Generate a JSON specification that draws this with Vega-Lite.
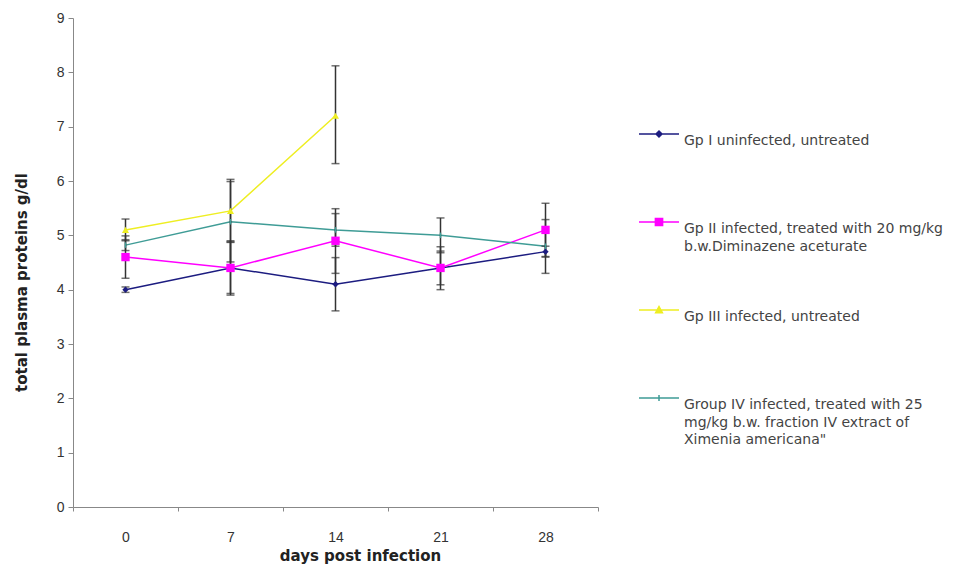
{
  "$schema": "https://vega.github.io/schema/vega-lite/v6.json",
  "autosize": "none",
  "width": 525,
  "height": 489,
  "padding": {"left": 73, "top": 18, "right": 360, "bottom": 62},
  "background": "white",
  "config": {
    "view": {"stroke": null},
    "font": "Liberation Sans",
    "axis": {"grid": false, "domainColor": "#888", "tickColor": "#888", "labelColor": "#333", "titleColor": "#222", "labelFont": "Liberation Sans", "titleFont": "DejaVu Sans"}
  },
  "data": {
    "values": [
      {"group": "Gp I", "day": "0", "mean": 4.0, "lo": 3.95, "hi": 4.05},
      {"group": "Gp I", "day": "7", "mean": 4.4, "lo": 3.9, "hi": 4.9},
      {"group": "Gp I", "day": "14", "mean": 4.1, "lo": 3.61, "hi": 4.59},
      {"group": "Gp I", "day": "21", "mean": 4.4, "lo": 4.09, "hi": 4.71},
      {"group": "Gp I", "day": "28", "mean": 4.7, "lo": 4.6, "hi": 4.8},
      {"group": "Gp II", "day": "0", "mean": 4.6, "lo": 4.21, "hi": 4.99},
      {"group": "Gp II", "day": "7", "mean": 4.4, "lo": 3.93, "hi": 4.87},
      {"group": "Gp II", "day": "14", "mean": 4.9, "lo": 4.3, "hi": 5.49},
      {"group": "Gp II", "day": "21", "mean": 4.4, "lo": 4.0, "hi": 4.79},
      {"group": "Gp II", "day": "28", "mean": 5.1, "lo": 4.61, "hi": 5.59},
      {"group": "Gp III", "day": "0", "mean": 5.1, "lo": 4.9, "hi": 5.3},
      {"group": "Gp III", "day": "7", "mean": 5.45, "lo": 4.88, "hi": 6.03},
      {"group": "Gp III", "day": "14", "mean": 7.2, "lo": 6.32, "hi": 8.12},
      {"group": "Group IV", "day": "0", "mean": 4.82, "lo": 4.72, "hi": 4.92},
      {"group": "Group IV", "day": "7", "mean": 5.25, "lo": 4.51, "hi": 5.99},
      {"group": "Group IV", "day": "14", "mean": 5.1, "lo": 4.8, "hi": 5.4},
      {"group": "Group IV", "day": "21", "mean": 5.0, "lo": 4.68, "hi": 5.32},
      {"group": "Group IV", "day": "28", "mean": 4.8, "lo": 4.3, "hi": 5.29}
    ]
  },
  "encoding": {
    "x": {
      "field": "day", "type": "ordinal", "sort": ["0", "7", "14", "21", "28"],
      "scale": {"paddingInner": 0, "paddingOuter": 0},
      "axis": {"title": "days post infection", "labelAngle": 0, "tickBand": "extent", "tickSize": 4, "labelFontSize": 14, "labelPadding": 19, "titleFontSize": 15, "titleFontWeight": "bold", "titlePadding": 4, "titleX": 287, "titleAlign": "center"}
    }
  },
  "layer": [
    {
      "mark": {"type": "line", "strokeWidth": 1.5},
      "encoding": {
        "y": {"field": "mean", "type": "quantitative", "scale": {"domain": [0, 9]},
          "axis": {"title": "total plasma proteins g/dl", "values": [0,1,2,3,4,5,6,7,8,9], "labelOverlap": false, "tickSize": 5, "labelFontSize": 14, "labelPadding": 4, "titleFontSize": 15, "titleFontWeight": "bold", "titlePadding": 27, "titleY": 264, "titleAlign": "center"}},
        "color": {
          "field": "group", "type": "nominal",
          "scale": {"domain": ["Gp I", "Gp II", "Gp III", "Group IV"], "range": ["#1c1c80", "#ff00ff", "#eeee22", "#3f9c96"]},
          "legend": {
            "title": null, "orient": "none", "legendX": 565, "legendY": 95,
            "symbolSize": 1600, "symbolStrokeWidth": 1.5, "labelOffset": 4,
            "labelFont": "DejaVu Sans", "labelFontSize": 14, "labelColor": "#444", "labelLimit": 400, "labelBaseline": "top",
            "rowPadding": 18,
            "labelExpr": "datum.value === 'Gp I' ? ['Gp I uninfected,  untreated', ' ', ' '] : datum.value === 'Gp II' ? ['Gp II infected,  treated with 20 mg/kg', 'b.w.Diminazene  aceturate', ' '] : datum.value === 'Gp III' ? ['Gp III infected,  untreated', ' ', ' '] : ['Group IV infected, treated with 25', 'mg/kg b.w.  fraction IV extract of', 'Ximenia americana\"']",
            "encode": {
              "labels": {"update": {"lineHeight": {"value": 17.5}}},
              "symbols": {"update": {
                "shape": {"signal": "datum.value === 'Gp I' ? 'M-1,0H1M-0.15,0L0,-0.15L0.15,0L0,0.15Z' : datum.value === 'Gp II' ? 'M-1,0H1M-0.18,-0.18H0.18V0.18H-0.18Z' : datum.value === 'Gp III' ? 'M-1,0H1M-0.17,0.14L0,-0.17L0.17,0.14Z' : 'M-1,0H1M0,-0.15V0.15'"},
                "fill": {"scale": "color", "field": "value"},
                "stroke": {"scale": "color", "field": "value"},
                "strokeWidth": {"value": 1.5},
                "opacity": {"value": 1}
              }}
            }
          }
        }
      }
    },
    {
      "mark": {"type": "rule", "color": "#333", "strokeWidth": 1.5},
      "encoding": {
        "y": {"field": "lo", "type": "quantitative", "axis": {"title": "total plasma proteins g/dl", "values": [0,1,2,3,4,5,6,7,8,9], "labelOverlap": false, "tickSize": 5, "labelFontSize": 14, "labelPadding": 4, "titleFontSize": 15, "titleFontWeight": "bold", "titlePadding": 27, "titleY": 264, "titleAlign": "center"}},
        "y2": {"field": "hi"}
      }
    },
    {
      "mark": {"type": "tick", "color": "#333", "size": 8, "thickness": 1.5, "orient": "horizontal"},
      "encoding": {"y": {"field": "lo", "type": "quantitative", "axis": {"title": "total plasma proteins g/dl", "values": [0,1,2,3,4,5,6,7,8,9], "labelOverlap": false, "tickSize": 5, "labelFontSize": 14, "labelPadding": 4, "titleFontSize": 15, "titleFontWeight": "bold", "titlePadding": 27, "titleY": 264, "titleAlign": "center"}}}
    },
    {
      "mark": {"type": "tick", "color": "#333", "size": 8, "thickness": 1.5, "orient": "horizontal"},
      "encoding": {"y": {"field": "hi", "type": "quantitative", "axis": {"title": "total plasma proteins g/dl", "values": [0,1,2,3,4,5,6,7,8,9], "labelOverlap": false, "tickSize": 5, "labelFontSize": 14, "labelPadding": 4, "titleFontSize": 15, "titleFontWeight": "bold", "titlePadding": 27, "titleY": 264, "titleAlign": "center"}}}
    },
    {
      "transform": [{"filter": "datum.group === 'Gp I'"}],
      "mark": {"type": "point", "filled": true, "opacity": 1, "shape": "diamond", "size": 40, "color": "#1c1c80"},
      "encoding": {"y": {"field": "mean", "type": "quantitative", "axis": {"title": "total plasma proteins g/dl", "values": [0,1,2,3,4,5,6,7,8,9], "labelOverlap": false, "tickSize": 5, "labelFontSize": 14, "labelPadding": 4, "titleFontSize": 15, "titleFontWeight": "bold", "titlePadding": 27, "titleY": 264, "titleAlign": "center"}}}
    },
    {
      "transform": [{"filter": "datum.group === 'Gp II'"}],
      "mark": {"type": "point", "filled": true, "opacity": 1, "shape": "square", "size": 70, "color": "#ff00ff"},
      "encoding": {"y": {"field": "mean", "type": "quantitative", "axis": {"title": "total plasma proteins g/dl", "values": [0,1,2,3,4,5,6,7,8,9], "labelOverlap": false, "tickSize": 5, "labelFontSize": 14, "labelPadding": 4, "titleFontSize": 15, "titleFontWeight": "bold", "titlePadding": 27, "titleY": 264, "titleAlign": "center"}}}
    },
    {
      "transform": [{"filter": "datum.group === 'Gp III'"}],
      "mark": {"type": "point", "filled": true, "opacity": 1, "shape": "triangle-up", "size": 50, "color": "#eeee22"},
      "encoding": {"y": {"field": "mean", "type": "quantitative", "axis": {"title": "total plasma proteins g/dl", "values": [0,1,2,3,4,5,6,7,8,9], "labelOverlap": false, "tickSize": 5, "labelFontSize": 14, "labelPadding": 4, "titleFontSize": 15, "titleFontWeight": "bold", "titlePadding": 27, "titleY": 264, "titleAlign": "center"}}}
    },
    {
      "transform": [{"filter": "datum.group === 'Group IV'"}],
      "mark": {"type": "point", "filled": false, "opacity": 1, "shape": "M0,-1V1", "size": 30, "strokeWidth": 1.5, "color": "#3f9c96"},
      "encoding": {"y": {"field": "mean", "type": "quantitative", "axis": {"title": "total plasma proteins g/dl", "values": [0,1,2,3,4,5,6,7,8,9], "labelOverlap": false, "tickSize": 5, "labelFontSize": 14, "labelPadding": 4, "titleFontSize": 15, "titleFontWeight": "bold", "titlePadding": 27, "titleY": 264, "titleAlign": "center"}}}
    }
  ]
}
